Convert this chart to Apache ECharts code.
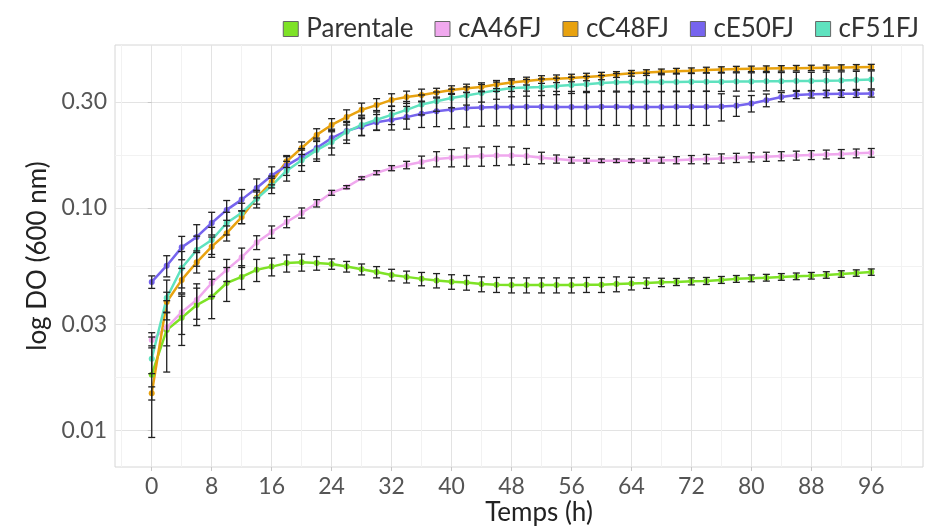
<!DOCTYPE html>
<html>
<head>
<meta charset="UTF-8">
<script src="https://cdn.jsdelivr.net/npm/echarts@6/dist/echarts.min.js"></script>
<style>
html, body { margin: 0; padding: 0; background: #fff; }
#chart { width: 942px; height: 526px; }
</style>
</head>
<body>
<div id="chart"></div>
<script>
// time points (h)
const times = [0, 2, 4, 6, 8, 10, 12, 14, 16, 18, 20, 22, 24, 26, 28, 30, 32, 34, 36, 38, 40, 42, 44, 46, 48,
    50, 52, 54, 56, 58, 60, 62, 64, 66, 68, 70, 72, 74, 76, 78, 80, 82, 84, 86, 88, 90, 92, 94, 96];

const xTicks = [0, 8, 16, 24, 32, 40, 48, 56, 64, 72, 80, 88, 96];
const xMinor = [-4, 4, 12, 20, 28, 36, 44, 52, 60, 68, 76, 84, 92, 100];
const yTicks = [0.01, 0.03, 0.1, 0.3];
const yMinor = [0.01732, 0.05477, 0.1732];

// DO values
const parentale = [0.0178, 0.0283, 0.0321, 0.0366, 0.0398, 0.046, 0.049, 0.0527, 0.0545, 0.0565, 0.057, 0.0565, 0.056,
    0.0545, 0.053, 0.0515, 0.050, 0.049, 0.048, 0.0472, 0.0466, 0.0462, 0.0455, 0.0452, 0.045,
    0.045, 0.045, 0.045, 0.045, 0.0452, 0.0452, 0.0455, 0.0458, 0.046, 0.0463, 0.0465, 0.0468, 0.047,
    0.0475, 0.048, 0.0483, 0.0486, 0.049, 0.0493, 0.0496, 0.050, 0.0505, 0.051, 0.0515];
const parentaleErr = [0.0085, 0.010, 0.008, 0.007, 0.008, 0.008, 0.006, 0.006, 0.005, 0.005, 0.005, 0.004, 0.003,
    0.003, 0.003, 0.003, 0.003, 0.003, 0.0033, 0.0035, 0.0035, 0.0035, 0.0035, 0.0035, 0.0035,
    0.0035, 0.0035, 0.0035, 0.0035, 0.0035, 0.0035, 0.0035, 0.003, 0.0025, 0.002, 0.0017, 0.0017, 0.0017,
    0.0017, 0.0017, 0.0017, 0.0017, 0.0017, 0.0017, 0.0017, 0.0017, 0.0017, 0.0017, 0.0017];

const cA46FJ = [0.0255, 0.029, 0.034, 0.0386, 0.046, 0.0527, 0.060, 0.070, 0.078, 0.0865, 0.095, 0.105, 0.117,
    0.124, 0.136, 0.144, 0.151, 0.156, 0.161, 0.166, 0.168, 0.170, 0.171, 0.172, 0.172,
    0.171, 0.168, 0.166, 0.164, 0.163, 0.163, 0.163, 0.163, 0.163, 0.164, 0.164, 0.165, 0.166,
    0.167, 0.168, 0.169, 0.170, 0.171, 0.172, 0.173, 0.174, 0.175, 0.176, 0.177];
const cA46FJErr = [0.002, 0.005, 0.007, 0.007, 0.006, 0.006, 0.006, 0.005, 0.005, 0.005, 0.005, 0.004, 0.003,
    0.002, 0.002, 0.003, 0.004, 0.006, 0.010, 0.013, 0.015, 0.016, 0.017, 0.017, 0.016,
    0.014, 0.010, 0.007, 0.005, 0.004, 0.003, 0.003, 0.003, 0.004, 0.005, 0.006, 0.007, 0.008,
    0.008, 0.008, 0.008, 0.008, 0.008, 0.008, 0.008, 0.008, 0.008, 0.008, 0.008];

const cC48FJ = [0.0147, 0.0378, 0.0475, 0.057, 0.067, 0.077, 0.091, 0.111, 0.131, 0.162, 0.186, 0.213, 0.236,
    0.256, 0.276, 0.290, 0.306, 0.315, 0.322, 0.330, 0.339, 0.345, 0.350, 0.359, 0.366,
    0.372, 0.378, 0.381, 0.384, 0.388, 0.392, 0.398, 0.403, 0.406, 0.409, 0.412, 0.414, 0.417,
    0.419, 0.421, 0.422, 0.423, 0.424, 0.425, 0.426, 0.427, 0.428, 0.429, 0.430];
const cC48FJErr = [0.001, 0.004, 0.006, 0.006, 0.007, 0.006, 0.006, 0.007, 0.008, 0.010, 0.012, 0.014, 0.016,
    0.020, 0.020, 0.020, 0.020, 0.020, 0.020, 0.015, 0.015, 0.015, 0.015, 0.015, 0.015,
    0.015, 0.015, 0.015, 0.015, 0.015, 0.015, 0.012, 0.012, 0.012, 0.012, 0.012, 0.012, 0.012,
    0.012, 0.012, 0.012, 0.012, 0.012, 0.012, 0.012, 0.012, 0.012, 0.012, 0.012];

const cE50FJ = [0.0465, 0.055, 0.0665, 0.0741, 0.0856, 0.098, 0.109, 0.123, 0.140, 0.155, 0.170, 0.186, 0.206,
    0.222, 0.232, 0.243, 0.249, 0.256, 0.265, 0.272, 0.277, 0.281, 0.283, 0.284, 0.284,
    0.285, 0.285, 0.284, 0.284, 0.284, 0.285, 0.285, 0.284, 0.284, 0.284, 0.285, 0.285, 0.285,
    0.286, 0.288, 0.295, 0.305, 0.315, 0.322, 0.324, 0.325, 0.326, 0.326, 0.327];
const cE50FJErr = [0.003, 0.006, 0.008, 0.010, 0.010, 0.010, 0.012, 0.012, 0.013, 0.015, 0.015, 0.020, 0.020,
    0.020, 0.020, 0.020, 0.025, 0.030, 0.035, 0.040, 0.050, 0.050, 0.050, 0.050, 0.050,
    0.050, 0.050, 0.050, 0.050, 0.050, 0.050, 0.050, 0.050, 0.050, 0.050, 0.050, 0.050, 0.050,
    0.040, 0.030, 0.025, 0.020, 0.015, 0.012, 0.012, 0.012, 0.012, 0.012, 0.012];

const cF51FJ = [0.021, 0.0394, 0.0537, 0.0647, 0.0718, 0.0856, 0.095, 0.110, 0.126, 0.147, 0.164, 0.182, 0.198,
    0.220, 0.236, 0.249, 0.262, 0.276, 0.292, 0.302, 0.312, 0.320, 0.329, 0.338, 0.346,
    0.348, 0.350, 0.353, 0.357, 0.360, 0.364, 0.367, 0.368, 0.368, 0.368, 0.368, 0.369, 0.369,
    0.369, 0.370, 0.370, 0.371, 0.371, 0.372, 0.372, 0.373, 0.374, 0.376, 0.378];
const cF51FJErr = [0.003, 0.008, 0.010, 0.010, 0.010, 0.010, 0.010, 0.010, 0.010, 0.015, 0.018, 0.020, 0.025,
    0.025, 0.025, 0.025, 0.025, 0.025, 0.030, 0.030, 0.030, 0.030, 0.030, 0.030, 0.030,
    0.030, 0.030, 0.030, 0.030, 0.030, 0.030, 0.035, 0.035, 0.035, 0.035, 0.035, 0.035, 0.035,
    0.035, 0.035, 0.035, 0.035, 0.035, 0.035, 0.035, 0.035, 0.035, 0.035, 0.035];

const groups = [
    { name: 'Parentale', values: parentale, errors: parentaleErr, color: '#7ee226' },
    { name: 'cA46FJ', values: cA46FJ, errors: cA46FJErr, color: '#f0a8ee' },
    { name: 'cC48FJ', values: cC48FJ, errors: cC48FJErr, color: '#e8a20f' },
    { name: 'cE50FJ', values: cE50FJ, errors: cE50FJErr, color: '#7664ee' },
    { name: 'cF51FJ', values: cF51FJ, errors: cF51FJErr, color: '#5fe2bf' }
];

const FONT = 'Lato';

function errorBars(params, api) {
    const x = api.value(0);
    const lo = api.coord([x, api.value(1)]);
    const hi = api.coord([x, api.value(2)]);
    const w = 3.5;
    const style = { stroke: '#222', lineWidth: 1.3 };
    return {
        type: 'group',
        children: [
            { type: 'line', shape: { x1: lo[0], y1: lo[1], x2: hi[0], y2: hi[1] }, style: style },
            { type: 'line', shape: { x1: lo[0] - w, y1: lo[1], x2: lo[0] + w, y2: lo[1] }, style: style },
            { type: 'line', shape: { x1: hi[0] - w, y1: hi[1], x2: hi[0] + w, y2: hi[1] }, style: style }
        ]
    };
}

const series = [];

groups.forEach(g => {
    series.push({
        name: g.name,
        type: 'line',
        xAxisIndex: 0,
        yAxisIndex: 0,
        data: times.map((t, i) => [t, g.values[i]]),
        symbol: 'circle',
        symbolSize: 6,
        itemStyle: { color: g.color },
        lineStyle: { color: g.color, width: 2.5 },
        z: 3
    });
});

groups.forEach(g => {
    series.push({
        name: g.name + ' err',
        type: 'custom',
        xAxisIndex: 0,
        yAxisIndex: 0,
        renderItem: errorBars,
        encode: { x: 0, y: [1, 2] },
        data: times.map((t, i) => [t, g.values[i] - g.errors[i], g.values[i] + g.errors[i]]),
        silent: true,
        z: 4
    });
});

const chart = echarts.init(document.getElementById('chart'));

chart.setOption({
    animation: false,
    backgroundColor: '#ffffff',
    textStyle: { fontFamily: FONT },
    legend: {
        data: groups.map(g => g.name),
        right: 18,
        top: 11,
        icon: 'rect',
        itemWidth: 15,
        itemHeight: 15,
        itemGap: 21,
        itemStyle: { borderColor: '#666', borderWidth: 1 },
        textStyle: { fontFamily: FONT, fontSize: 26, color: '#333', padding: [0, 0, 0, 3] }
    },
    grid: {
        left: 115,
        right: 19,
        top: 45,
        bottom: 59,
        outerBoundsMode: 'none',
        containLabel: false,
        show: true,
        borderColor: '#d6d6d6',
        borderWidth: 1
    },
    xAxis: [
        {
            type: 'value',
            min: -4.9,
            max: 102.9,
            name: 'Temps (h)',
            nameLocation: 'middle',
            nameGap: 33,
            nameMoveOverlap: false,
            nameTextStyle: { fontFamily: FONT, fontSize: 26, color: '#222', padding: [0, 0, 0, 40] },
            axisLine: { show: false },
            axisTick: { show: true, customValues: xTicks, length: 4, lineStyle: { color: '#c8c8c8' } },
            axisLabel: { customValues: xTicks, fontFamily: FONT, fontSize: 23, color: '#555', margin: 8 },
            splitLine: { show: true, lineStyle: { color: '#e3e3e3', width: 1 } }
        },
        {
            type: 'value',
            min: -4.9,
            max: 102.9,
            position: 'bottom',
            axisLine: { show: false },
            axisTick: { show: false, customValues: xMinor },
            axisLabel: { show: false, customValues: xMinor },
            splitLine: { show: true, lineStyle: { color: '#f2f2f2', width: 1 } }
        }
    ],
    yAxis: [
        {
            type: 'log',
            logBase: 10,
            min: 0.00685,
            max: 0.54,
            name: 'log DO (600 nm)',
            nameLocation: 'middle',
            nameGap: 64,
            nameMoveOverlap: false,
            nameTextStyle: { fontFamily: FONT, fontSize: 26, color: '#222' },
            axisLine: { show: false },
            axisTick: { show: true, customValues: yTicks, length: 4, lineStyle: { color: '#c8c8c8' } },
            axisLabel: {
                customValues: yTicks,
                fontFamily: FONT,
                fontSize: 23,
                color: '#555',
                margin: 8,
                formatter: v => Number(v).toFixed(2)
            },
            splitLine: { show: true, lineStyle: { color: '#e3e3e3', width: 1 } }
        },
        {
            type: 'log',
            logBase: 10,
            min: 0.00685,
            max: 0.54,
            position: 'left',
            axisLine: { show: false },
            axisTick: { show: false, customValues: yMinor },
            axisLabel: { show: false, customValues: yMinor },
            splitLine: { show: true, lineStyle: { color: '#f2f2f2', width: 1 } }
        }
    ],
    series: series
});
</script>
</body>
</html>
